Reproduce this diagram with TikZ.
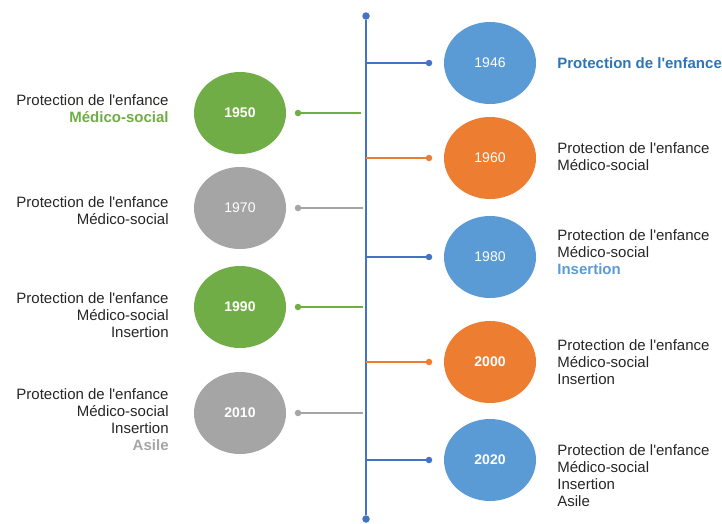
\documentclass[tikz,border=0pt]{standalone}
\usepackage{fontspec}
\setmainfont{Liberation Sans}
\usetikzlibrary{shapes.geometric,positioning}
\definecolor{officeblue}{HTML}{5B9BD5}
\definecolor{officeorange}{HTML}{ED7D31}
\definecolor{officegreen}{HTML}{70AD47}
\definecolor{officegray}{HTML}{A5A5A5}
\definecolor{lineblue}{HTML}{4472C4}
\definecolor{textblue}{HTML}{2E75B6}
\newcommand{\prot}{Protection de l\textquotesingle enfance}

\begin{document}
\begin{tikzpicture}[x=1pt,y=-1pt]
\tikzstyle{year}=[ellipse, minimum width=92pt, minimum height=82pt, inner sep=0pt, text=white, font=\fontsize{14}{16}\selectfont]
\tikzstyle{dot}=[circle, inner sep=0pt, minimum size=6.5pt]
\tikzstyle{bigdot}=[circle, fill=lineblue, inner sep=0pt, minimum size=7.5pt]
\tikzstyle{connect}=[line width=2pt]
\tikzstyle{desc}=[inner sep=0pt, text=black!85, font=\fontsize{15}{17}\selectfont]
\useasboundingbox (0,0) rectangle (722,523);
% timeline
\node[bigdot] (Top) at (366,16) {};
\node[bigdot] (Bottom) at (366,519) {};
\draw[lineblue, line width=2pt] (Top) -- (Bottom);
% right side
\node[year, fill=officeblue] (Y1946) at (490,63) {1946};
\node[year, fill=officeorange] (Y1960) at (490,158) {1960};
\node[year, fill=officeblue] (Y1980) at (490,257) {1980};
\node[year, fill=officeorange, font=\fontsize{14}{16}\selectfont\bfseries] (Y2000) at (490,362) {2000};
\node[year, fill=officeblue, font=\fontsize{14}{16}\selectfont\bfseries] (Y2020) at (490,460) {2020};
\node[dot, fill=lineblue] (D1946) at (429,63) {};
\node[dot, fill=officeorange] (D1960) at (429,158) {};
\node[dot, fill=lineblue] (D1980) at (429,257) {};
\node[dot, fill=officeorange] (D2000) at (429,362) {};
\node[dot, fill=lineblue] (D2020) at (429,460) {};
\coordinate (T1946) at (366,63);
\coordinate (T1960) at (366,158);
\coordinate (T1980) at (366,257);
\coordinate (T2000) at (366,362);
\coordinate (T2020) at (366,460);
\node[desc, right=21pt of Y1946, text=textblue, font=\fontsize{15}{17}\selectfont\bfseries] (L1946) {\prot};
\node[desc, right=21pt of Y1960, align=left, yshift=1pt] (L1960) {\prot\\Médico-social};
\node[desc, right=21pt of Y1980, align=left, yshift=5pt] (L1980) {\prot\\Médico-social\\\textcolor{officeblue}{\bfseries Insertion}};
\node[desc, right=21pt of Y2000, align=left] (L2000) {\prot\\Médico-social\\Insertion};
\node[desc, right=21pt of Y2020, align=left, yshift=-16pt] (L2020) {\prot\\Médico-social\\Insertion\\Asile};
% left side
\node[year, fill=officegreen, font=\fontsize{14}{16}\selectfont\bfseries] (Y1950) at (240,113) {1950};
\node[year, fill=officegray] (Y1970) at (240,208) {1970};
\node[year, fill=officegreen, font=\fontsize{14}{16}\selectfont\bfseries] (Y1990) at (240,307) {1990};
\node[year, fill=officegray, font=\fontsize{14}{16}\selectfont\bfseries] (Y2010) at (240,413) {2010};
\node[dot, fill=officegreen] (D1950) at (298,113) {};
\node[dot, fill=officegray] (D1970) at (298,208) {};
\node[dot, fill=officegreen] (D1990) at (298,307) {};
\node[dot, fill=officegray] (D2010) at (298,413) {};
\coordinate (T1950) at (361,113);
\coordinate (T1970) at (363,208);
\coordinate (T1990) at (363,307);
\coordinate (T2010) at (363,413);
\node[desc, left=25pt of Y1950, align=right, yshift=4pt] (L1950) {\prot\\\textcolor{officegreen}{\bfseries Médico-social}};
\node[desc, left=25pt of Y1970, align=right, yshift=-3pt] (L1970) {\prot\\Médico-social};
\node[desc, left=25pt of Y1990, align=right, yshift=-8pt] (L1990) {\prot\\Médico-social\\Insertion};
\node[desc, left=25pt of Y2010, align=right, yshift=-7pt] (L2010) {\prot\\Médico-social\\Insertion\\\textcolor{officegray}{\bfseries Asile}};
  \path
  	(T1946) edge [connect, lineblue] (D1946)
  	(T1960) edge [line width=1.2pt, officeorange] (D1960)
  	(T1980) edge [connect, lineblue] (D1980)
  	(T2000) edge [line width=1.2pt, officeorange] (D2000)
  	(T2020) edge [connect, lineblue] (D2020)
  	(T1950) edge [connect, officegreen] (D1950)
  	(T1970) edge [connect, officegray] (D1970)
  	(T1990) edge [connect, officegreen] (D1990)
  	(T2010) edge [connect, officegray] (D2010);
\end{tikzpicture}
\end{document}
